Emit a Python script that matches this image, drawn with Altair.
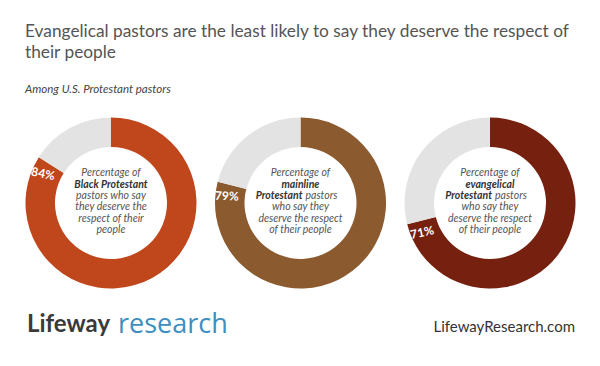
import altair as alt
import pandas as pd

# ---------------- data ----------------
groups = ["Black Protestant", "mainline Protestant", "evangelical Protestant"]
yes_pct = [84, 79, 71]
ring_colors = ["#C0471C", "#8B5A2E", "#76200F"]
rest_color = "#E3E3E3"

title_lines = [
    "Evangelical pastors are the least likely to say they deserve the respect of",
    "their people",
]
subtitle = "Among U.S. Protestant pastors"
brand_dark = "Lifeway"
brand_light = "research"
site = "LifewayResearch.com"

caption_lines = {
    "Black Protestant": [
        [("Percentage of", False)],
        [("Black Protestant", True)],
        [("pastors who say", False)],
        [("they deserve the", False)],
        [("respect of their", False)],
        [("people", False)],
    ],
    "mainline Protestant": [
        [("Percentage of", False)],
        [("mainline", True)],
        [("Protestant", True), ("pastors", False)],
        [("who say they", False)],
        [("deserve the respect", False)],
        [("of their people", False)],
    ],
    "evangelical Protestant": [
        [("Percentage of", False)],
        [("evangelical", True)],
        [("Protestant", True), ("pastors", False)],
        [("who say they", False)],
        [("deserve the respect", False)],
        [("of their people", False)],
    ],
}

# ---------------- tables ----------------
arc_rows = []
for g, v, c in zip(groups, yes_pct, ring_colors):
    arc_rows.append({"group": g, "key": g + "|yes", "start": 0, "end": v})
    arc_rows.append({"group": g, "key": g + "|no", "start": v, "end": 100})
arcs = pd.DataFrame(arc_rows)
color_domain = [g + "|yes" for g in groups] + [g + "|no" for g in groups]
color_range = ring_colors + [rest_color] * 3

labels = pd.DataFrame({"group": groups, "value": yes_pct})
labels["label"] = labels["value"].astype(str) + "%"
labels["rot"] = ((labels["value"] * 3.6 - 9 - 270) * 0.5) % 360

cap_rows = []
for g in groups:
    for i, segs in enumerate(caption_lines[g]):
        if len(segs) == 1:
            cap_rows.append({"group": g, "line": i, "text": segs[0][0], "bold": segs[0][1], "part": "c"})
        else:
            cap_rows.append({"group": g, "line": i, "text": segs[0][0], "bold": segs[0][1], "part": "r"})
            cap_rows.append({"group": g, "line": i, "text": segs[1][0], "bold": segs[1][1], "part": "l"})
caps = pd.DataFrame(cap_rows)
one = pd.DataFrame({"k": [0]})

FONT = "Lato"

x_enc = alt.X("group:N", scale=alt.Scale(type="point", domain=groups, range=[103, 482], padding=0), axis=None)
theta_scale = alt.Scale(domain=[0, 100], range=[0, 6.283185307])
y_line = alt.Y("line:Q", scale=alt.Scale(domain=[0, 5], range=[165.3, 222.1]), axis=None)

rings = alt.Chart(arcs).mark_arc(outerRadius=85.5, innerRadius=56).encode(
    x=x_enc,
    y=alt.value(195),
    theta=alt.Theta("start:Q", scale=theta_scale),
    theta2="end:Q",
    color=alt.Color("key:N", scale=alt.Scale(domain=color_domain, range=color_range), legend=None),
)

pct = alt.Chart(labels).mark_text(
    radius=74, thetaOffset=-0.16, font=FONT, fontSize=12, fontWeight="bold", color="white",
    align="center", baseline="middle",
).encode(
    x=x_enc,
    y=alt.value(195),
    theta=alt.Theta("value:Q", scale=theta_scale),
    text="label:N",
    angle=alt.Angle("rot:Q", scale=None),
)


def cap_layer(part, bold, align, dx):
    return alt.Chart(caps).transform_filter(
        (alt.datum.part == part) & (alt.datum.bold == bold)
    ).mark_text(
        font=FONT, fontSize=10.5, fontStyle="italic",
        fontWeight="bold" if bold else "normal",
        color="#333333" if bold else "#555555",
        align=align, baseline="middle", dx=dx,
    ).encode(x=x_enc, y=y_line, text="text:N")


cap_layers = [
    cap_layer("c", False, "center", 0),
    cap_layer("c", True, "center", 0),
    cap_layer("r", True, "right", 2),
    cap_layer("l", False, "left", 5),
]


def fixed_text(txt, x, y, **kw):
    return alt.Chart(one).mark_text(baseline="middle", **kw).encode(
        x=alt.value(x), y=alt.value(y), text=alt.value(txt)
    )


title1 = fixed_text(title_lines[0], 17, 23.7, font=FONT, fontSize=17.3, color="#555555", align="left")
title2 = fixed_text(title_lines[1], 17, 44.7, font=FONT, fontSize=17.3, color="#555555", align="left")
sub = fixed_text(subtitle, 17, 82, font=FONT, fontSize=11.5, fontStyle="italic", color="#444444", align="left")
brand1 = fixed_text(brand_dark, 19, 317, font=FONT, fontSize=24, fontWeight="bold", color="#3a3a3a", align="left")
brand2 = fixed_text(brand_light, 110, 317, font="Open Sans", fontSize=27, color="#3d8fc2", align="left")
url = fixed_text(site, 567, 318.7, font=FONT, fontSize=15, color="#333333", align="right")

chart = alt.layer(
    rings, pct, *cap_layers, title1, title2, sub, brand1, brand2, url
).properties(
    width=584, height=350, padding=0, background="white"
).configure_view(stroke=None)

chart.save("out.html", embed_options={"renderer": "svg", "actions": False})
